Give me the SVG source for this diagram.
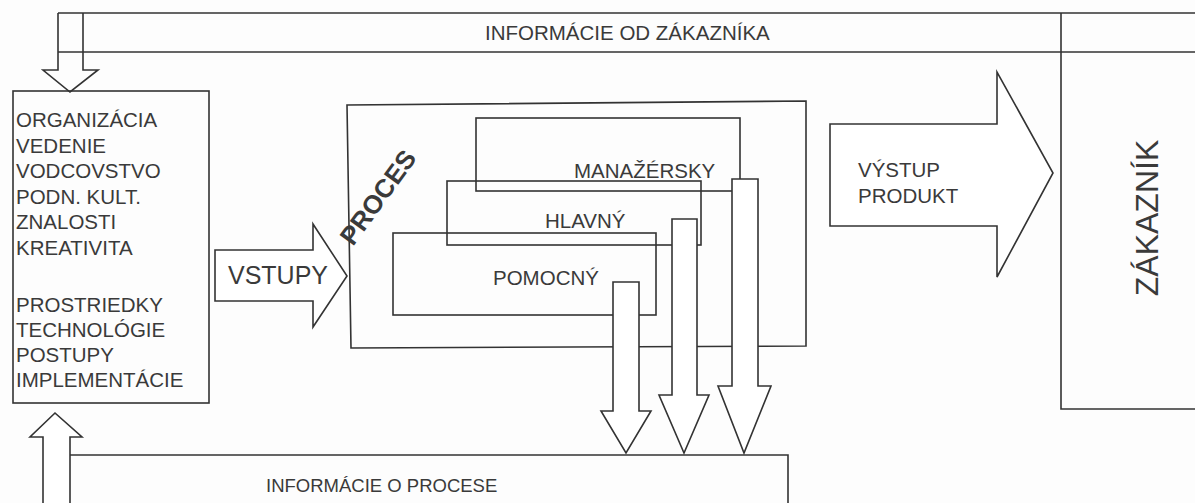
<svg xmlns="http://www.w3.org/2000/svg" width="1195" height="503" viewBox="0 0 1195 503">
  <style>
    .ln { fill: none; stroke: #333; stroke-width: 1.6; stroke-linejoin: miter; }
    .arw { fill: #fff; stroke: #333; stroke-width: 1.6; stroke-linejoin: miter; }
    .t { font-family: "Liberation Sans", Arial, sans-serif; font-size: 20.5px; fill: #3a3a3a; }
    .big { font-size: 25px; }
    .bold { font-weight: bold; font-size: 26px; }
    .small { font-size: 18.5px; }
  </style>
  <rect x="0" y="0" width="1195" height="503" fill="#fdfdfd"/>

  <!-- customer information band along the top, with its arrow down into the organisation box -->
  <g id="info-customer">
    <path class="ln" d="M58,13 H1195 M58,52 H1195"/>
    <path class="ln" d="M58,13 V70 H43 L70,92 L98,70 H83 V13"/>
    <text class="t" x="485" y="40">INFORMÁCIE OD ZÁKAZNÍKA</text>
  </g>

  <!-- organisation / resources box -->
  <g id="organization">
    <rect class="ln" x="13" y="91" width="196" height="312"/>
    <text class="t" x="16" y="127">ORGANIZÁCIA</text>
    <text class="t" x="16" y="152.5">VEDENIE</text>
    <text class="t" x="16" y="178">VODCOVSTVO</text>
    <text class="t" x="16" y="203.5">PODN. KULT.</text>
    <text class="t" x="16" y="229">ZNALOSTI</text>
    <text class="t" x="16" y="254.5">KREATIVITA</text>
    <text class="t" x="16" y="312">PROSTRIEDKY</text>
    <text class="t" x="16" y="337">TECHNOLÓGIE</text>
    <text class="t" x="16" y="362">POSTUPY</text>
    <text class="t" x="16" y="387">IMPLEMENTÁCIE</text>
  </g>

  <!-- inputs arrow -->
  <g id="inputs">
    <path class="arw" d="M215,250 H313 V224 L347,276 L313,327 V301 H215 Z"/>
    <text class="t big" x="228" y="284">VSTUPY</text>
  </g>

  <!-- process frame with the three nested process levels -->
  <g id="process">
    <path class="ln" d="M347,105 L806,101 V346 L351,348 Z"/>
    <text class="t bold" transform="translate(353,247) rotate(-54)">PROCES</text>
  </g>
  <g id="managerial">
    <rect class="ln" x="476" y="118" width="264" height="73"/>
    <text class="t" x="574" y="178">MANAŽÉRSKY</text>
  </g>
  <g id="main">
    <rect class="ln" x="447" y="181" width="254" height="64"/>
    <text class="t" x="545" y="228">HLAVNÝ</text>
  </g>
  <g id="support">
    <rect class="ln" x="393" y="233" width="263" height="82"/>
    <text class="t" x="493" y="285">POMOCNÝ</text>
  </g>

  <!-- output arrow -->
  <g id="output">
    <path class="arw" d="M830,124 H997 V72 L1053,173 L997,277 V226 H830 Z"/>
    <text class="t" x="858" y="177">VÝSTUP</text>
    <text class="t" x="858" y="203">PRODUKT</text>
  </g>

  <!-- customer -->
  <g id="customer">
    <path class="ln" d="M1061,13 V409 H1195"/>
    <text class="t" style="font-size:32px" text-anchor="middle" transform="translate(1158,218) rotate(-90)">ZÁKAZNÍK</text>
  </g>

  <!-- process information band along the bottom, with its arrow up into the organisation box -->
  <g id="info-process">
    <path class="ln" d="M70,455 H788 V503"/>
    <path class="arw" d="M43,504 V437 H30 L55,413 L82,437 H70 V504"/>
    <text class="t small" x="266" y="492">INFORMÁCIE O PROCESE</text>
  </g>

  <!-- feedback flows from each process level down to the process information -->
  <g id="connectors">
    <path class="arw" d="M613,282 H639 V411 H651 L626,453 L601,411 H613 Z"/>
    <path class="arw" d="M672,219 H697 V395 H709 L684,453 L659,395 H672 Z"/>
    <path class="arw" d="M732,179 H758 V386 H771 L744,453 L718,386 H732 Z"/>
  </g>
</svg>
